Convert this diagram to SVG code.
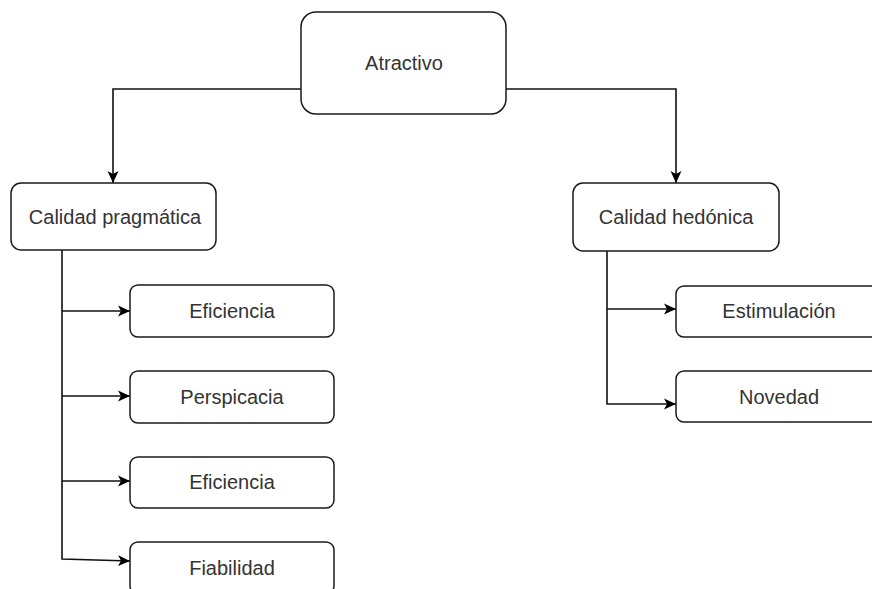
<svg xmlns="http://www.w3.org/2000/svg" width="872" height="589" viewBox="0 0 872 589">
<style>
.box{fill:#fff;stroke:#1a1a1a;stroke-width:1.5}
.lbl{font-family:"Liberation Sans",Arial,sans-serif;font-size:20px;fill:#333;text-anchor:middle}
.edge{fill:none;stroke:#111;stroke-width:1.6}
</style>
<defs>
<marker id="arr" viewBox="0 0 12 12" refX="12" refY="6" markerWidth="12" markerHeight="12" markerUnits="userSpaceOnUse" orient="auto">
<path d="M0,0.5 L12,6 L0,11.5 L3,6 Z" fill="#000"/>
</marker>
</defs>
<rect width="872" height="589" fill="#fff"/>
<g id="connectors">
<path class="edge" d="M301,89 H113 V183" marker-end="url(#arr)"/>
<path class="edge" d="M506,89 H676 V183" marker-end="url(#arr)"/>
<path class="edge" d="M62,250 V559 L130,561" marker-end="url(#arr)"/>
<path class="edge" d="M62,311 H130" marker-end="url(#arr)"/>
<path class="edge" d="M62,396 H130" marker-end="url(#arr)"/>
<path class="edge" d="M62,481 H130" marker-end="url(#arr)"/>
<path class="edge" d="M607,251 V404 H676" marker-end="url(#arr)"/>
<path class="edge" d="M607,309 H676" marker-end="url(#arr)"/>
</g>
<g id="atractivo"><rect class="box" x="301" y="12" width="205" height="102" rx="15"/><text class="lbl" x="404" y="70">Atractivo</text></g>
<g id="pragmatica"><rect class="box" x="11" y="183" width="205" height="67" rx="10"/><text class="lbl" x="115" y="224">Calidad pragmática</text></g>
<g id="hedonica"><rect class="box" x="573" y="183" width="206" height="68" rx="10"/><text class="lbl" x="676" y="224">Calidad hedónica</text></g>
<g id="eficiencia1"><rect class="box" x="130" y="285" width="204" height="52" rx="8"/><text class="lbl" x="232" y="318">Eficiencia</text></g>
<g id="perspicacia"><rect class="box" x="130" y="371" width="204" height="52" rx="8"/><text class="lbl" x="232" y="404">Perspicacia</text></g>
<g id="eficiencia2"><rect class="box" x="130" y="457" width="204" height="51" rx="8"/><text class="lbl" x="232" y="489">Eficiencia</text></g>
<g id="fiabilidad"><rect class="box" x="130" y="542" width="204" height="52" rx="8"/><text class="lbl" x="232" y="575">Fiabilidad</text></g>
<g id="estimulacion"><rect class="box" x="676" y="286" width="206" height="51" rx="8"/><text class="lbl" x="779" y="318">Estimulación</text></g>
<g id="novedad"><rect class="box" x="676" y="371" width="206" height="51" rx="8"/><text class="lbl" x="779" y="404">Novedad</text></g>
</svg>
